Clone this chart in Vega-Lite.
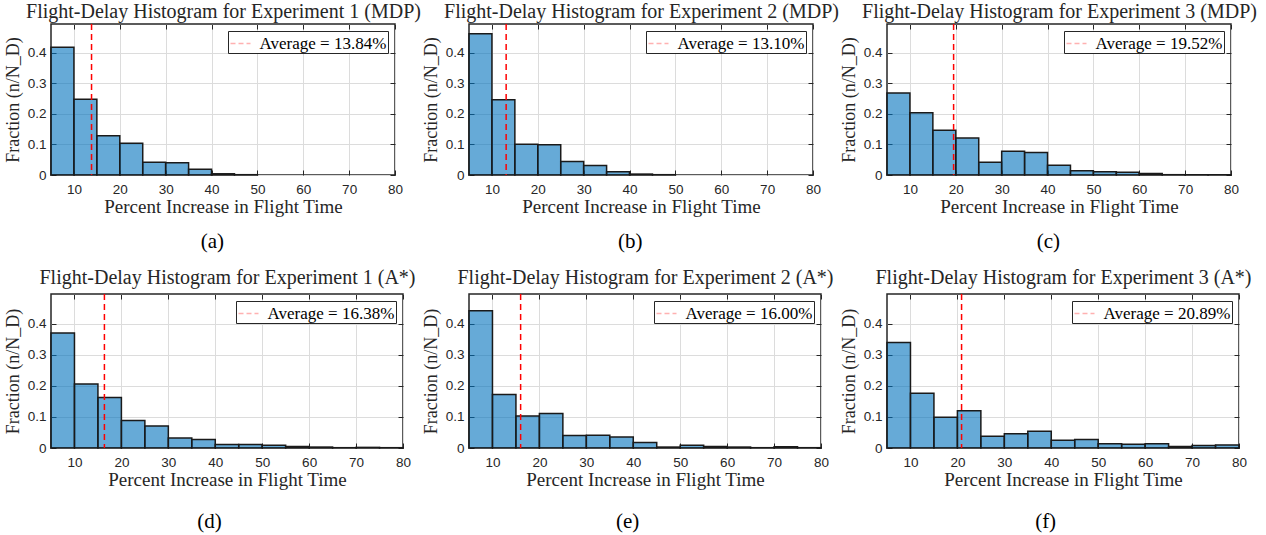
{
  "$schema": "https://vega.github.io/schema/vega-lite/v6.json",
  "padding": {"left": 3, "top": 0, "right": 5, "bottom": 5},
  "background": "white",
  "datasets": {
    "bins": [
      {"p":"a","b0":5,"b1":10,"f":0.419},{"p":"a","b0":10,"b1":15,"f":0.248},{"p":"a","b0":15,"b1":20,"f":0.129},{"p":"a","b0":20,"b1":25,"f":0.104},{"p":"a","b0":25,"b1":30,"f":0.042},{"p":"a","b0":30,"b1":35,"f":0.040},{"p":"a","b0":35,"b1":40,"f":0.019},{"p":"a","b0":40,"b1":45,"f":0.004},{"p":"a","b0":45,"b1":50,"f":0.001},
      {"p":"b","b0":5,"b1":10,"f":0.463},{"p":"b","b0":10,"b1":15,"f":0.247},{"p":"b","b0":15,"b1":20,"f":0.101},{"p":"b","b0":20,"b1":25,"f":0.099},{"p":"b","b0":25,"b1":30,"f":0.044},{"p":"b","b0":30,"b1":35,"f":0.031},{"p":"b","b0":35,"b1":40,"f":0.011},{"p":"b","b0":40,"b1":45,"f":0.003},{"p":"b","b0":45,"b1":50,"f":0.001},
      {"p":"c","b0":5,"b1":10,"f":0.269},{"p":"c","b0":10,"b1":15,"f":0.204},{"p":"c","b0":15,"b1":20,"f":0.147},{"p":"c","b0":20,"b1":25,"f":0.121},{"p":"c","b0":25,"b1":30,"f":0.042},{"p":"c","b0":30,"b1":35,"f":0.078},{"p":"c","b0":35,"b1":40,"f":0.074},{"p":"c","b0":40,"b1":45,"f":0.032},{"p":"c","b0":45,"b1":50,"f":0.014},{"p":"c","b0":50,"b1":55,"f":0.011},{"p":"c","b0":55,"b1":60,"f":0.009},{"p":"c","b0":60,"b1":65,"f":0.005},{"p":"c","b0":65,"b1":70,"f":0.001},{"p":"c","b0":70,"b1":75,"f":0.001},{"p":"c","b0":75,"b1":80,"f":0.001},
      {"p":"d","b0":5,"b1":10,"f":0.370},{"p":"d","b0":10,"b1":15,"f":0.206},{"p":"d","b0":15,"b1":20,"f":0.162},{"p":"d","b0":20,"b1":25,"f":0.088},{"p":"d","b0":25,"b1":30,"f":0.071},{"p":"d","b0":30,"b1":35,"f":0.032},{"p":"d","b0":35,"b1":40,"f":0.027},{"p":"d","b0":40,"b1":45,"f":0.011},{"p":"d","b0":45,"b1":50,"f":0.011},{"p":"d","b0":50,"b1":55,"f":0.009},{"p":"d","b0":55,"b1":60,"f":0.005},{"p":"d","b0":60,"b1":65,"f":0.003},{"p":"d","b0":65,"b1":70,"f":0.001},{"p":"d","b0":70,"b1":75,"f":0.002},{"p":"d","b0":75,"b1":80,"f":0.001},
      {"p":"e","b0":5,"b1":10,"f":0.441},{"p":"e","b0":10,"b1":15,"f":0.172},{"p":"e","b0":15,"b1":20,"f":0.103},{"p":"e","b0":20,"b1":25,"f":0.111},{"p":"e","b0":25,"b1":30,"f":0.040},{"p":"e","b0":30,"b1":35,"f":0.041},{"p":"e","b0":35,"b1":40,"f":0.035},{"p":"e","b0":40,"b1":45,"f":0.018},{"p":"e","b0":45,"b1":50,"f":0.003},{"p":"e","b0":50,"b1":55,"f":0.009},{"p":"e","b0":55,"b1":60,"f":0.005},{"p":"e","b0":60,"b1":65,"f":0.003},{"p":"e","b0":65,"b1":70,"f":0.001},{"p":"e","b0":70,"b1":75,"f":0.004},{"p":"e","b0":75,"b1":80,"f":0.001},
      {"p":"f","b0":5,"b1":10,"f":0.339},{"p":"f","b0":10,"b1":15,"f":0.176},{"p":"f","b0":15,"b1":20,"f":0.099},{"p":"f","b0":20,"b1":25,"f":0.120},{"p":"f","b0":25,"b1":30,"f":0.038},{"p":"f","b0":30,"b1":35,"f":0.046},{"p":"f","b0":35,"b1":40,"f":0.054},{"p":"f","b0":40,"b1":45,"f":0.025},{"p":"f","b0":45,"b1":50,"f":0.027},{"p":"f","b0":50,"b1":55,"f":0.014},{"p":"f","b0":55,"b1":60,"f":0.012},{"p":"f","b0":60,"b1":65,"f":0.014},{"p":"f","b0":65,"b1":70,"f":0.005},{"p":"f","b0":70,"b1":75,"f":0.008},{"p":"f","b0":75,"b1":80,"f":0.010}
    ],
    "avgs": [
      {"p":"a","avg":13.84,"label":"Average = 13.84%"},
      {"p":"b","avg":13.10,"label":"Average = 13.10%"},
      {"p":"c","avg":19.52,"label":"Average = 19.52%"},
      {"p":"d","avg":16.38,"label":"Average = 16.38%"},
      {"p":"e","avg":16.00,"label":"Average = 16.00%"},
      {"p":"f","avg":20.89,"label":"Average = 20.89%"}
    ]
  },
  "columns": 3,
  "bounds": "flush",
  "align": "all",
  "spacing": {"row": 116, "column": 66},
  "resolve": {"scale": {"color": "independent"}, "legend": {"color": "independent"}},
  "concat": [
    {"width": 344, "height": 151,
     "title": {"text": "(a)", "orient": "bottom", "frame": "bounds", "anchor": "middle", "offset": 14},
     "layer": [
      {"data": {"name": "bins"}, "transform": [{"filter": "datum.p === 'a'"}],
       "mark": {"type": "rect", "fill": "#0072bd", "fillOpacity": 0.6, "stroke": "#1a1a1a", "strokeWidth": 1.5},
       "encoding": {
        "x": {"field": "b0", "type": "quantitative", "scale": {"domain": [5, 80], "nice": false, "zero": false}, "axis": {"orient": "bottom", "title": "Percent Increase in Flight Time", "values": [10,20,30,40,50,60,70,80], "grid": true, "labelFlush": false, "labelPadding": 12, "titlePadding": 2}},
        "x2": {"field": "b1"},
        "y": {"field": "f", "type": "quantitative", "scale": {"domain": [0, 0.495], "nice": false}, "axis": {"title": "Fraction (n/N_D)", "titleFontSize": 18, "values": [0,0.1,0.2,0.3,0.4], "format": ".1~f", "grid": true, "labelFlush": false, "labelPadding": 10, "titlePadding": 5}},
        "y2": {"datum": 0}}},
      {"data": {"name": "bins"}, "transform": [{"filter": "datum.p === 'a'"}],
       "mark": {"type": "rect", "opacity": 0},
       "encoding": {
        "x": {"field": "b0", "type": "quantitative", "axis": null},
        "x2": {"field": "b1"},
        "y": {"field": "f", "type": "quantitative", "axis": {"orient": "right", "title": null, "labels": false, "grid": false, "values": [0,0.1,0.2,0.3,0.4]}},
        "y2": {"datum": 0}}},
      {"data": {"name": "avgs"}, "transform": [{"filter": "datum.p === 'a'"}],
       "mark": {"type": "rule", "strokeDash": [6, 4], "strokeWidth": 1.5},
       "encoding": {
        "x": {"field": "avg", "type": "quantitative", "axis": {"orient": "top", "title": "Flight-Delay Histogram for Experiment 1 (MDP)", "titleFontSize": 20, "values": [10,20,30,40,50,60,70,80], "labels": false, "grid": false, "titlePadding": 2}},
        "color": {"field": "label", "type": "nominal", "scale": {"range": ["#ff0000"]}, "legend": {"title": null}}}}
     ],
     "resolve": {"axis": {"x": "independent", "y": "independent"}}},
    {"width": 344, "height": 151,
     "title": {"text": "(b)", "orient": "bottom", "frame": "bounds", "anchor": "middle", "offset": 14},
     "layer": [
      {"data": {"name": "bins"}, "transform": [{"filter": "datum.p === 'b'"}],
       "mark": {"type": "rect", "fill": "#0072bd", "fillOpacity": 0.6, "stroke": "#1a1a1a", "strokeWidth": 1.5},
       "encoding": {
        "x": {"field": "b0", "type": "quantitative", "scale": {"domain": [5, 80], "nice": false, "zero": false}, "axis": {"orient": "bottom", "title": "Percent Increase in Flight Time", "values": [10,20,30,40,50,60,70,80], "grid": true, "labelFlush": false, "labelPadding": 12, "titlePadding": 2}},
        "x2": {"field": "b1"},
        "y": {"field": "f", "type": "quantitative", "scale": {"domain": [0, 0.495], "nice": false}, "axis": {"title": "Fraction (n/N_D)", "titleFontSize": 18, "values": [0,0.1,0.2,0.3,0.4], "format": ".1~f", "grid": true, "labelFlush": false, "labelPadding": 10, "titlePadding": 5}},
        "y2": {"datum": 0}}},
      {"data": {"name": "bins"}, "transform": [{"filter": "datum.p === 'b'"}],
       "mark": {"type": "rect", "opacity": 0},
       "encoding": {
        "x": {"field": "b0", "type": "quantitative", "axis": null},
        "x2": {"field": "b1"},
        "y": {"field": "f", "type": "quantitative", "axis": {"orient": "right", "title": null, "labels": false, "grid": false, "values": [0,0.1,0.2,0.3,0.4]}},
        "y2": {"datum": 0}}},
      {"data": {"name": "avgs"}, "transform": [{"filter": "datum.p === 'b'"}],
       "mark": {"type": "rule", "strokeDash": [6, 4], "strokeWidth": 1.5},
       "encoding": {
        "x": {"field": "avg", "type": "quantitative", "axis": {"orient": "top", "title": "Flight-Delay Histogram for Experiment 2 (MDP)", "titleFontSize": 20, "values": [10,20,30,40,50,60,70,80], "labels": false, "grid": false, "titlePadding": 2}},
        "color": {"field": "label", "type": "nominal", "scale": {"range": ["#ff0000"]}, "legend": {"title": null}}}}
     ],
     "resolve": {"axis": {"x": "independent", "y": "independent"}}},
    {"width": 344, "height": 151,
     "title": {"text": "(c)", "orient": "bottom", "frame": "bounds", "anchor": "middle", "offset": 14},
     "layer": [
      {"data": {"name": "bins"}, "transform": [{"filter": "datum.p === 'c'"}],
       "mark": {"type": "rect", "fill": "#0072bd", "fillOpacity": 0.6, "stroke": "#1a1a1a", "strokeWidth": 1.5},
       "encoding": {
        "x": {"field": "b0", "type": "quantitative", "scale": {"domain": [5, 80], "nice": false, "zero": false}, "axis": {"orient": "bottom", "title": "Percent Increase in Flight Time", "values": [10,20,30,40,50,60,70,80], "grid": true, "labelFlush": false, "labelPadding": 12, "titlePadding": 2}},
        "x2": {"field": "b1"},
        "y": {"field": "f", "type": "quantitative", "scale": {"domain": [0, 0.495], "nice": false}, "axis": {"title": "Fraction (n/N_D)", "titleFontSize": 18, "values": [0,0.1,0.2,0.3,0.4], "format": ".1~f", "grid": true, "labelFlush": false, "labelPadding": 10, "titlePadding": 5}},
        "y2": {"datum": 0}}},
      {"data": {"name": "bins"}, "transform": [{"filter": "datum.p === 'c'"}],
       "mark": {"type": "rect", "opacity": 0},
       "encoding": {
        "x": {"field": "b0", "type": "quantitative", "axis": null},
        "x2": {"field": "b1"},
        "y": {"field": "f", "type": "quantitative", "axis": {"orient": "right", "title": null, "labels": false, "grid": false, "values": [0,0.1,0.2,0.3,0.4]}},
        "y2": {"datum": 0}}},
      {"data": {"name": "avgs"}, "transform": [{"filter": "datum.p === 'c'"}],
       "mark": {"type": "rule", "strokeDash": [6, 4], "strokeWidth": 1.5},
       "encoding": {
        "x": {"field": "avg", "type": "quantitative", "axis": {"orient": "top", "title": "Flight-Delay Histogram for Experiment 3 (MDP)", "titleFontSize": 20, "values": [10,20,30,40,50,60,70,80], "labels": false, "grid": false, "titlePadding": 2}},
        "color": {"field": "label", "type": "nominal", "scale": {"range": ["#ff0000"]}, "legend": {"title": null}}}}
     ],
     "resolve": {"axis": {"x": "independent", "y": "independent"}}},
    {"width": 352, "height": 154,
     "title": {"text": "(d)", "orient": "bottom", "frame": "bounds", "anchor": "middle", "offset": 21},
     "layer": [
      {"data": {"name": "bins"}, "transform": [{"filter": "datum.p === 'd'"}],
       "mark": {"type": "rect", "fill": "#0072bd", "fillOpacity": 0.6, "stroke": "#1a1a1a", "strokeWidth": 1.5},
       "encoding": {
        "x": {"field": "b0", "type": "quantitative", "scale": {"domain": [5, 80], "nice": false, "zero": false}, "axis": {"orient": "bottom", "title": "Percent Increase in Flight Time", "values": [10,20,30,40,50,60,70,80], "grid": true, "labelFlush": false, "labelPadding": 12, "titlePadding": 2}},
        "x2": {"field": "b1"},
        "y": {"field": "f", "type": "quantitative", "scale": {"domain": [0, 0.495], "nice": false}, "axis": {"title": "Fraction (n/N_D)", "titleFontSize": 18, "values": [0,0.1,0.2,0.3,0.4], "format": ".1~f", "grid": true, "labelFlush": false, "labelPadding": 10, "titlePadding": 5}},
        "y2": {"datum": 0}}},
      {"data": {"name": "bins"}, "transform": [{"filter": "datum.p === 'd'"}],
       "mark": {"type": "rect", "opacity": 0},
       "encoding": {
        "x": {"field": "b0", "type": "quantitative", "axis": null},
        "x2": {"field": "b1"},
        "y": {"field": "f", "type": "quantitative", "axis": {"orient": "right", "title": null, "labels": false, "grid": false, "values": [0,0.1,0.2,0.3,0.4]}},
        "y2": {"datum": 0}}},
      {"data": {"name": "avgs"}, "transform": [{"filter": "datum.p === 'd'"}],
       "mark": {"type": "rule", "strokeDash": [6, 4], "strokeWidth": 1.5},
       "encoding": {
        "x": {"field": "avg", "type": "quantitative", "axis": {"orient": "top", "title": "Flight-Delay Histogram for Experiment 1 (A*)", "titleFontSize": 20, "values": [10,20,30,40,50,60,70,80], "labels": false, "grid": false, "titlePadding": 6}},
        "color": {"field": "label", "type": "nominal", "scale": {"range": ["#ff0000"]}, "legend": {"title": null}}}}
     ],
     "resolve": {"axis": {"x": "independent", "y": "independent"}}},
    {"width": 352, "height": 154,
     "title": {"text": "(e)", "orient": "bottom", "frame": "bounds", "anchor": "middle", "offset": 21},
     "layer": [
      {"data": {"name": "bins"}, "transform": [{"filter": "datum.p === 'e'"}],
       "mark": {"type": "rect", "fill": "#0072bd", "fillOpacity": 0.6, "stroke": "#1a1a1a", "strokeWidth": 1.5},
       "encoding": {
        "x": {"field": "b0", "type": "quantitative", "scale": {"domain": [5, 80], "nice": false, "zero": false}, "axis": {"orient": "bottom", "title": "Percent Increase in Flight Time", "values": [10,20,30,40,50,60,70,80], "grid": true, "labelFlush": false, "labelPadding": 12, "titlePadding": 2}},
        "x2": {"field": "b1"},
        "y": {"field": "f", "type": "quantitative", "scale": {"domain": [0, 0.495], "nice": false}, "axis": {"title": "Fraction (n/N_D)", "titleFontSize": 18, "values": [0,0.1,0.2,0.3,0.4], "format": ".1~f", "grid": true, "labelFlush": false, "labelPadding": 10, "titlePadding": 5}},
        "y2": {"datum": 0}}},
      {"data": {"name": "bins"}, "transform": [{"filter": "datum.p === 'e'"}],
       "mark": {"type": "rect", "opacity": 0},
       "encoding": {
        "x": {"field": "b0", "type": "quantitative", "axis": null},
        "x2": {"field": "b1"},
        "y": {"field": "f", "type": "quantitative", "axis": {"orient": "right", "title": null, "labels": false, "grid": false, "values": [0,0.1,0.2,0.3,0.4]}},
        "y2": {"datum": 0}}},
      {"data": {"name": "avgs"}, "transform": [{"filter": "datum.p === 'e'"}],
       "mark": {"type": "rule", "strokeDash": [6, 4], "strokeWidth": 1.5},
       "encoding": {
        "x": {"field": "avg", "type": "quantitative", "axis": {"orient": "top", "title": "Flight-Delay Histogram for Experiment 2 (A*)", "titleFontSize": 20, "values": [10,20,30,40,50,60,70,80], "labels": false, "grid": false, "titlePadding": 6}},
        "color": {"field": "label", "type": "nominal", "scale": {"range": ["#ff0000"]}, "legend": {"title": null}}}}
     ],
     "resolve": {"axis": {"x": "independent", "y": "independent"}}},
    {"width": 352, "height": 154,
     "title": {"text": "(f)", "orient": "bottom", "frame": "bounds", "anchor": "middle", "offset": 21},
     "layer": [
      {"data": {"name": "bins"}, "transform": [{"filter": "datum.p === 'f'"}],
       "mark": {"type": "rect", "fill": "#0072bd", "fillOpacity": 0.6, "stroke": "#1a1a1a", "strokeWidth": 1.5},
       "encoding": {
        "x": {"field": "b0", "type": "quantitative", "scale": {"domain": [5, 80], "nice": false, "zero": false}, "axis": {"orient": "bottom", "title": "Percent Increase in Flight Time", "values": [10,20,30,40,50,60,70,80], "grid": true, "labelFlush": false, "labelPadding": 12, "titlePadding": 2}},
        "x2": {"field": "b1"},
        "y": {"field": "f", "type": "quantitative", "scale": {"domain": [0, 0.495], "nice": false}, "axis": {"title": "Fraction (n/N_D)", "titleFontSize": 18, "values": [0,0.1,0.2,0.3,0.4], "format": ".1~f", "grid": true, "labelFlush": false, "labelPadding": 10, "titlePadding": 5}},
        "y2": {"datum": 0}}},
      {"data": {"name": "bins"}, "transform": [{"filter": "datum.p === 'f'"}],
       "mark": {"type": "rect", "opacity": 0},
       "encoding": {
        "x": {"field": "b0", "type": "quantitative", "axis": null},
        "x2": {"field": "b1"},
        "y": {"field": "f", "type": "quantitative", "axis": {"orient": "right", "title": null, "labels": false, "grid": false, "values": [0,0.1,0.2,0.3,0.4]}},
        "y2": {"datum": 0}}},
      {"data": {"name": "avgs"}, "transform": [{"filter": "datum.p === 'f'"}],
       "mark": {"type": "rule", "strokeDash": [6, 4], "strokeWidth": 1.5},
       "encoding": {
        "x": {"field": "avg", "type": "quantitative", "axis": {"orient": "top", "title": "Flight-Delay Histogram for Experiment 3 (A*)", "titleFontSize": 20, "values": [10,20,30,40,50,60,70,80], "labels": false, "grid": false, "titlePadding": 6}},
        "color": {"field": "label", "type": "nominal", "scale": {"range": ["#ff0000"]}, "legend": {"title": null}}}}
     ],
     "resolve": {"axis": {"x": "independent", "y": "independent"}}}
  ],
  "config": {
    "view": {"stroke": "#262626", "strokeWidth": 1.5},
    "axis": {"labelFont": "Liberation Sans, Arial, sans-serif", "labelFontSize": 13.5, "labelColor": "#262626", "titleFont": "Liberation Serif, Times New Roman, serif", "titleFontSize": 19, "titleFontWeight": "normal", "titleColor": "#262626", "gridColor": "#dcdcdc", "gridWidth": 1, "domain": false, "tickColor": "#262626", "tickSize": -5, "tickWidth": 1},
    "legend": {"orient": "top-right", "offset": 7, "strokeColor": "#262626", "fillColor": "white", "padding": 1.5, "labelFont": "Liberation Serif, Times New Roman, serif", "labelFontSize": 17, "labelColor": "black", "symbolType": "stroke", "symbolSize": 400, "symbolStrokeWidth": 1.5, "symbolDash": [5, 3], "symbolOpacity": 0.3, "labelOffset": 8, "cornerRadius": 0},
    "title": {"font": "Liberation Serif, Times New Roman, serif", "fontSize": 21, "fontWeight": "normal", "color": "black"}
  }
}
